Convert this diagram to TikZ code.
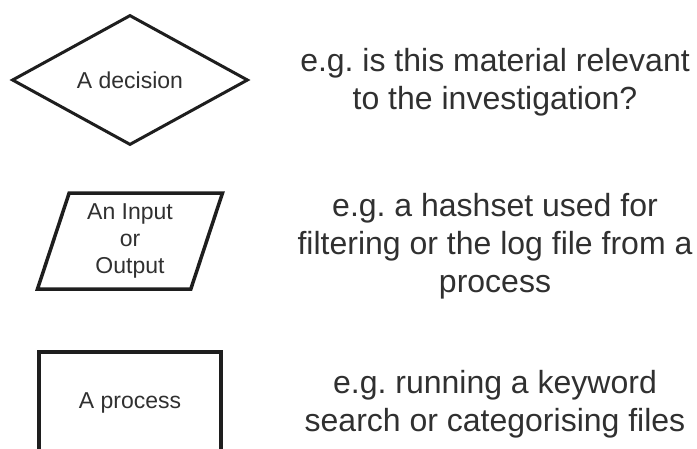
\documentclass[tikz,border=0pt]{standalone}
\usepackage{fontspec}
\setmainfont{Liberation Sans}
\usetikzlibrary{shapes.geometric}
\definecolor{ink}{HTML}{1E1E1E}
\definecolor{txt}{HTML}{303030}
\frenchspacing

\begin{document}
\begin{tikzpicture}[x=1pt,y=-1pt,
every node/.style={text=txt,align=center,inner sep=0pt},
sym/.style={draw=ink,line width=3.5pt,font=\fontsize{23}{27}\selectfont},
note/.style={font=\fontsize{32}{38}\selectfont}]
\useasboundingbox (0,0) rectangle (697,448);
\clip (0,0) rectangle (697,448);
% symbols
\node[sym,diamond,line width=3pt,minimum width=236,minimum height=130] (D) at (130,80) {A decision};
\node[sym,trapezium,trapezium left angle=67,trapezium right angle=113,
  trapezium stretches body,minimum width=185,minimum height=96] (IO) at (130,241) {An Input\\or\\Output};
\node[sym,rectangle,minimum width=182,minimum height=102] (P) at (130,403) {A process};
% examples
\node[note] (T1) at (495,82) {e.g. is this material relevant\\to the investigation?};
\node[note] (T2) at (495,246) {e.g. a hashset used for\\filtering or the log file from a\\process};
\node[note] (T3) at (495,404) {e.g. running a keyword\\search or categorising files};
\end{tikzpicture}
\end{document}
